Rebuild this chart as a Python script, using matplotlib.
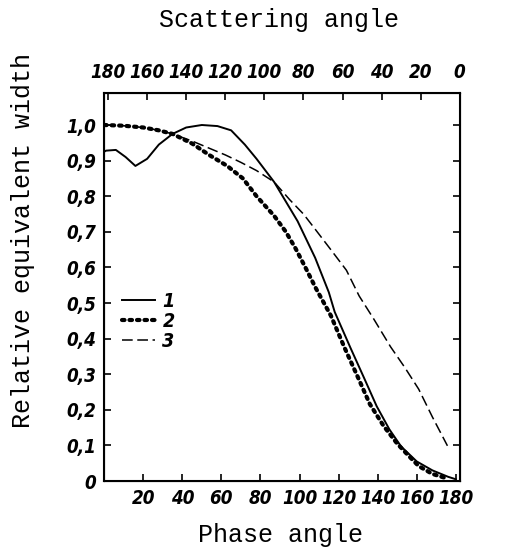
import numpy as np
import matplotlib
matplotlib.use('Agg')
import matplotlib.pyplot as plt

# curve 1 - solid
phase1 = [0, 1, 6, 11, 16, 22, 28, 35, 42, 50, 58, 65, 72, 78, 87, 93, 99, 108, 115, 118, 126, 133, 139.5, 146, 152, 160, 168, 176, 180]
width1 = [0.925, 0.928, 0.93, 0.91, 0.885, 0.905, 0.945, 0.975, 0.993, 1.0, 0.997, 0.985, 0.945, 0.905, 0.84, 0.785, 0.73, 0.627, 0.53, 0.475, 0.375, 0.29, 0.21, 0.145, 0.097, 0.055, 0.03, 0.012, 0.005]
# curve 2 - dotted
phase2 = [0, 10, 20, 28, 35, 45, 54, 63, 71, 78, 87, 93, 98, 103, 108.5, 116, 123, 130, 136, 143, 150, 156, 161, 168, 175]
width2 = [1.0, 0.998, 0.993, 0.985, 0.975, 0.948, 0.915, 0.885, 0.85, 0.80, 0.745, 0.70, 0.653, 0.60, 0.54, 0.465, 0.375, 0.29, 0.216, 0.155, 0.105, 0.07, 0.042, 0.02, 0.008]
# curve 3 - dashed
phase3 = [0, 10, 20, 28, 35, 45, 55, 62, 70, 78, 87, 95, 102, 107.5, 116, 124, 130.5, 138, 146.6, 154, 161, 168, 175.7]
width3 = [1.0, 0.998, 0.993, 0.985, 0.975, 0.955, 0.932, 0.916, 0.895, 0.872, 0.84, 0.79, 0.75, 0.711, 0.65, 0.592, 0.52, 0.455, 0.377, 0.318, 0.258, 0.18, 0.099]

bottom_ticks = [20, 40, 60, 80, 100, 120, 140, 160, 180]
top_ticks = [180, 160, 140, 120, 100, 80, 60, 40, 20, 0]
y_ticks = [0, 0.1, 0.2, 0.3, 0.4, 0.5, 0.6, 0.7, 0.8, 0.9, 1.0]

tickfont = dict(family='DejaVu Sans', stretch='condensed', style='italic', weight='bold', size=13.5)
labelfont = dict(family=['Liberation Mono', 'DejaVu Sans Mono'], size=18)

fig = plt.figure(figsize=(5.08, 5.6), dpi=100)
ax = fig.add_axes([0.205, 0.141, 0.70, 0.693])

ax.plot(phase1, width1, color='black', lw=1.4, label='1')
ax.plot(phase2, width2, color='black', lw=3, linestyle=(0, (0.6, 1.2)), dash_capstyle='round', label='2')
ax.plot(phase3, width3, color='black', lw=1.1, linestyle=(0, (7, 3)), label='3')

ax.set_xlim(0, 182)
ax.set_ylim(0, 1.09)
ax.set_xticks(bottom_ticks)
ax.set_xticklabels([str(t) for t in bottom_ticks], fontdict=tickfont)
ax.set_yticks(y_ticks)
ax.set_yticklabels([('%.1f' % t).replace('.', ',') if t > 0 else '0' for t in y_ticks], fontdict=tickfont)
ax.tick_params(direction='in', length=5, width=1.2, right=True, pad=6)
for s in ax.spines.values():
    s.set_linewidth(1.5)

ax2 = ax.twiny()
ax2.set_xlim(182, 0)
ax2.set_xticks(top_ticks)
ax2.set_xticklabels([str(t) for t in top_ticks], fontdict=tickfont)
ax2.tick_params(direction='in', length=5, width=1.2, pad=8)

leg = ax.legend(loc='lower left', bbox_to_anchor=(0.0, 0.29), frameon=False,
                handlelength=1.7, handletextpad=0.4, labelspacing=0.05,
                prop=dict(family='DejaVu Sans', stretch='condensed', style='italic', weight='bold', size=14))

fig.text(0.55, 0.965, 'Scattering angle', ha='center', va='center', fontdict=labelfont)
fig.text(0.553, 0.045, 'Phase angle', ha='center', va='center', fontdict=labelfont)
fig.text(0.045, 0.57, 'Relative equivalent width', ha='center', va='center', rotation=90, fontdict=labelfont)

fig.savefig('out.png', dpi=100)
